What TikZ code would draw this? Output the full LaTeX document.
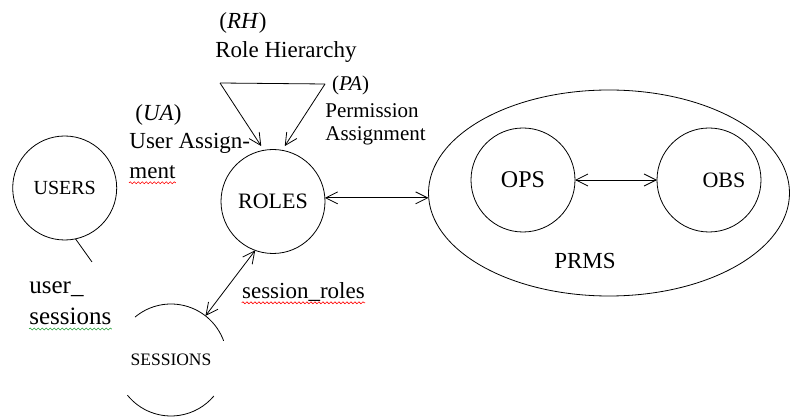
\documentclass[tikz,border=0pt]{standalone}
\usepackage{fontspec}
\setmainfont{Liberation Serif}
\usetikzlibrary{arrows.meta,shapes.geometric,decorations.pathmorphing}
\definecolor{spellgreen}{RGB}{40,160,60}

\begin{document}
\begin{tikzpicture}[x=1pt, y=1pt, line width=0.8pt,
  ring/.style={draw, circle, minimum size=104pt, inner sep=0pt, outer sep=0pt},
  lbl/.style={inner sep=0pt, anchor=base west, font=\fontsize{23}{28}\selectfont},
  tip/.style={-{Straight Barb[length=12pt, width=12pt]}},
  dbl/.style={{Straight Barb[length=12pt, width=12pt]}-{Straight Barb[length=12pt, width=12pt]}},
  squiggle/.style={decorate, decoration={snake, amplitude=1pt, segment length=4pt}, line width=0.6pt}]
  \useasboundingbox (0,-419) rectangle (790,0);
  \node[ring, font=\fontsize{20}{24}\selectfont] (users) at (64.7,-188) {USERS};
  \node[ring, font=\fontsize{22}{26}\selectfont] (roles) at (273,-201.5) {ROLES};
  \node[circle, minimum size=112pt, inner sep=0pt, outer sep=0pt, font=\fontsize{17.5}{21}\selectfont] (sessions) at (171,-360) {SESSIONS};
  \draw (sessions.20) arc[start angle=20, end angle=130, radius=56pt];
  \draw (sessions.219) arc[start angle=219, end angle=320, radius=56pt];
  \node[draw, ellipse, minimum width=361pt, minimum height=206pt, inner sep=0pt, outer sep=0pt] (prms) at (609,-193) {};
  \node[ring, font=\fontsize{24}{28}\selectfont] (ops) at (523,-180) {OPS};
  \node[ring, label={[xshift=15pt, font=\fontsize{22}{26}\selectfont]center:OBS}] (obs) at (709,-180) {};
  \node[inner sep=0pt, anchor=base, font=\fontsize{23}{28}\selectfont] (prmstext) at (585,-268.3) {PRMS};
  \node[lbl] (rh) at (219,-28.3) {(\textit{RH})};
  \node[lbl] (rhname) at (215,-57.3) {Role Hierarchy};
  \node[lbl, font=\fontsize{21}{25}\selectfont] (pa) at (331.7,-90.7) {(\textit{PA})};
  \node[lbl, font=\fontsize{21}{25}\selectfont] (paname1) at (325,-117.3) {Permission};
  \node[lbl, font=\fontsize{21}{25}\selectfont] (paname2) at (325,-140.7) {Assignment};
  \node[lbl] (ua) at (135,-120.7) {(\textit{UA})};
  \node[lbl] (uaname1) at (129,-149) {User Assign-};
  \node[lbl] (uaname2) at (129,-178.3) {ment};
  \node[lbl, font=\fontsize{25}{30}\selectfont] (us1) at (29,-293.3) {user\_};
  \node[lbl, font=\fontsize{25}{30}\selectfont] (us2) at (29,-324.5) {sessions};
  \node[lbl] (sr) at (241.7,-298.3) {session\_roles};
  \draw[squiggle, red] ([yshift=-4.5pt]uaname2.base west) -- ([yshift=-4.5pt]uaname2.base east);
  \draw[squiggle, spellgreen] ([yshift=-4.5pt]us2.base west) -- ([yshift=-4.5pt]us2.base east);
  \draw[squiggle, red] ([yshift=-4.5pt]sr.base west) -- ([yshift=-4.5pt]sr.base east);
  \coordinate (handle) at (92,-262);
  \draw (users.-78) -- (handle);
  \coordinate (rhl) at (220,-83);
  \coordinate (rhr) at (325,-84);
  \draw (rhl) -- (rhr);
  \draw[tip, shorten >=5pt] (rhl) -- (roles.100);
  \draw[tip, shorten >=5pt] (rhr) -- (roles.80);
  \draw[dbl] (roles.4) -- (roles.4 -| prms.west);
  \draw[dbl] (ops) -- (obs);
  \draw[dbl] (roles.250) -- (sessions.52);
\end{tikzpicture}
\end{document}
